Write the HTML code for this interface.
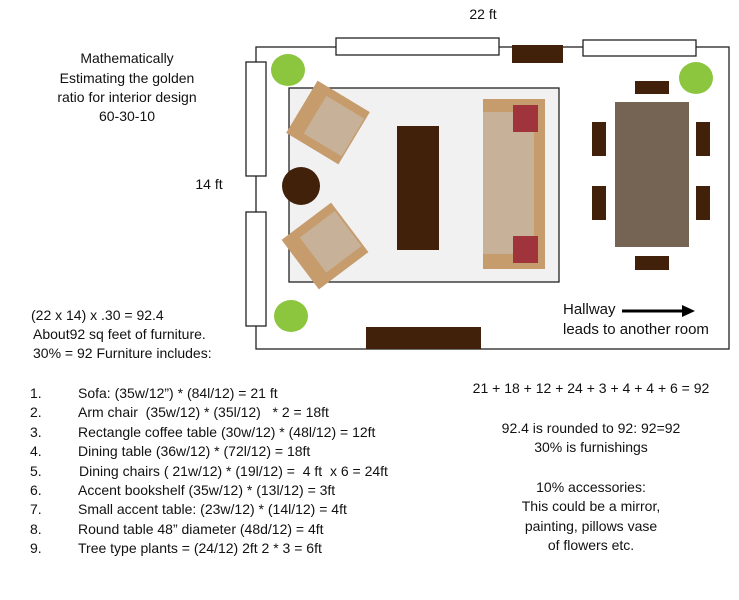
<!DOCTYPE html>
<html><head><meta charset="utf-8"><style>
html,body{margin:0;padding:0;background:#fff;}
svg{display:block;font-family:"Liberation Sans",sans-serif;}
text{font-size:14px;fill:#111;}
</style></head><body>
<svg width="739" height="600" viewBox="0 0 739 600">
<text x="483" y="19" text-anchor="middle">22 ft</text>
<text x="209" y="189" text-anchor="middle">14 ft</text>
<g text-anchor="middle">
<text x="127" y="63">Mathematically</text>
<text x="127" y="83">Estimating the golden</text>
<text x="127" y="102">ratio for interior design</text>
<text x="127" y="121">60-30-10</text>
</g>
<rect x="256" y="47" width="473" height="302" fill="#fff" stroke="#222" stroke-width="1.3"/>
<rect x="336" y="38" width="163" height="17" fill="#fff" stroke="#222" stroke-width="1.3"/>
<rect x="583" y="40" width="113" height="16" fill="#fff" stroke="#222" stroke-width="1.3"/>
<rect x="512" y="45" width="51" height="18" fill="#42210b"/>
<rect x="246" y="62" width="20" height="114" fill="#fff" stroke="#222" stroke-width="1.3"/>
<rect x="246" y="212" width="20" height="114" fill="#fff" stroke="#222" stroke-width="1.3"/>
<ellipse cx="288" cy="70" rx="17" ry="16" fill="#8cc63f"/>
<ellipse cx="696" cy="78" rx="17" ry="16" fill="#8cc63f"/>
<ellipse cx="291" cy="316" rx="17" ry="16" fill="#8cc63f"/>
<rect x="289" y="88" width="270" height="194" fill="#f1f1f1" stroke="#222" stroke-width="1.3"/>
<g transform="translate(328,122.5) rotate(31)">
<rect x="-30.5" y="-30.5" width="61" height="61" fill="#c69c6d"/><rect x="-15" y="-22" width="44" height="44" fill="#c7b299"/></g>
<g transform="translate(325,246) rotate(-37)">
<rect x="-31" y="-31" width="62" height="62" fill="#c69c6d"/><rect x="-15" y="-22" width="44" height="44" fill="#c7b299"/></g>
<circle cx="301" cy="186" r="19" fill="#42210b"/>
<rect x="397" y="126" width="42" height="124" fill="#42210b"/>
<g>
<rect x="483" y="99" width="62" height="170" fill="#c69c6d"/>
<rect x="483" y="112" width="51" height="142" fill="#c7b299"/>
<rect x="513" y="105" width="25" height="27" fill="#a0343c"/>
<rect x="513" y="236" width="25" height="27" fill="#a0343c"/></g>
<rect x="615" y="102" width="74" height="145" fill="#756354"/>
<g fill="#42210b">
<rect x="635" y="81" width="34" height="13"/><rect x="635" y="256" width="34" height="14"/>
<rect x="592" y="122" width="14" height="34"/><rect x="592" y="186" width="14" height="34"/>
<rect x="696" y="122" width="14" height="34"/><rect x="696" y="186" width="14" height="34"/></g>
<rect x="366" y="327" width="115" height="22" fill="#42210b"/>
<g>
<text x="563" y="314" style="font-size:15px">Hallway</text>
<text x="563" y="334" style="font-size:15px">leads to another room</text>
<line x1="622" y1="311" x2="684" y2="311" stroke="#000" stroke-width="3"/>
<polygon points="682,305 695,311 682,317" fill="#000"/></g>
<g>
<text x="31" y="320">(22 x 14) x .30 = 92.4</text>
<text x="33" y="339">About92 sq feet of furniture.</text>
<text x="33" y="358">30% = 92 Furniture includes:</text>
</g>
<g>
<text x="30" y="398">1.</text><text x="78" y="398">Sofa: (35w/12”) * (84l/12) = 21 ft</text>
<text x="30" y="417">2.</text><text x="78" y="417" xml:space="preserve">Arm chair  (35w/12) * (35l/12)   * 2 = 18ft</text>
<text x="30" y="437">3.</text><text x="78" y="437">Rectangle coffee table (30w/12) * (48l/12) = 12ft</text>
<text x="30" y="456">4.</text><text x="78" y="456">Dining table (36w/12) * (72l/12) = 18ft</text>
<text x="30" y="476">5.</text><text x="79" y="476" xml:space="preserve">Dining chairs ( 21w/12) * (19l/12) =  4 ft  x 6 = 24ft</text>
<text x="30" y="495">6.</text><text x="78" y="495">Accent bookshelf (35w/12) * (13l/12) = 3ft</text>
<text x="30" y="514">7.</text><text x="78" y="514">Small accent table: (23w/12) * (14l/12) = 4ft</text>
<text x="30" y="534">8.</text><text x="78" y="534">Round table 48” diameter (48d/12) = 4ft</text>
<text x="30" y="553">9.</text><text x="78" y="553">Tree type plants = (24/12) 2ft 2 * 3 = 6ft</text>
</g>
<g text-anchor="middle">
<text x="591" y="393">21 + 18 + 12 + 24 + 3 + 4 + 4 + 6 = 92</text>
<text x="591" y="433">92.4 is rounded to 92:  92=92</text>
<text x="591" y="452">30% is furnishings</text>
<text x="591" y="492">10% accessories:</text>
<text x="591" y="511">This could be a mirror,</text>
<text x="591" y="531">painting, pillows vase</text>
<text x="591" y="550">of flowers etc.</text>
</g>
</svg>
</body></html>
